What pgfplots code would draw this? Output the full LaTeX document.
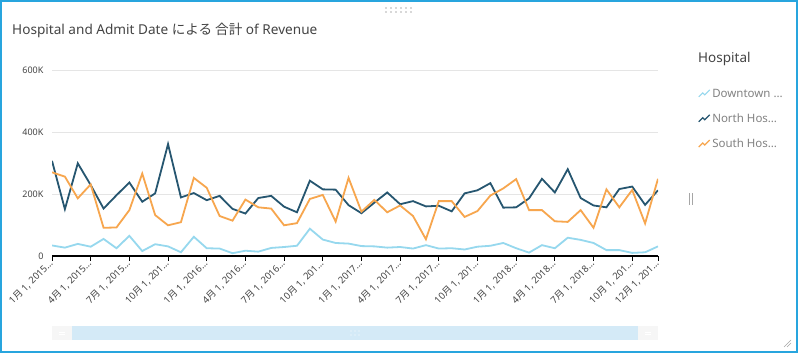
\documentclass[border=0pt]{standalone}
\usepackage{pgfplots}
\usepackage{pgfplotstable}
\pgfplotsset{compat=1.18}
\usepackage{fontspec}
\setmainfont{Noto Sans}
\newfontfamily\cjk{Noto Sans CJK JP}
\definecolor{frame}{RGB}{40,165,222}
\definecolor{dtc}{RGB}{150,216,238}
\definecolor{nhc}{RGB}{38,86,112}
\definecolor{shc}{RGB}{247,166,78}
\definecolor{txt}{RGB}{68,68,68}
\definecolor{ltxt}{RGB}{130,130,130}
\definecolor{scroll}{RGB}{212,234,247}
% values in thousands
\pgfplotstableread{
i dt nh sh
0 34 307 270
1 27 151 256
2 39 299 186
3 30 229 231
4 55 153 91
5 25 196 92
6 65 237 148
7 16 175 266
8 38 202 132
9 31 361 99
10 12 189 109
11 62 203 252
12 25 180 220
13 24 194 129
14 9 152 114
15 17 137 182
16 14 187 157
17 26 194 153
18 29 159 99
19 33 141 106
20 88 243 184
21 53 215 197
22 42 214 111
23 40 164 252
24 32 138 143
25 31 172 181
26 27 205 141
27 29 167 163
28 24 177 129
29 35 160 54
30 24 162 177
31 25 144 177
32 21 202 126
33 30 212 145
34 33 235 195
35 42 156 218
36 25 157 248
37 11 186 148
38 35 249 148
39 25 205 112
40 59 280 110
41 52 187 148
42 42 163 91
43 19 157 215
44 19 216 157
45 10 224 213
46 12 165 105
47 31 212 249
}\data
\begin{document}
\begin{tikzpicture}
\useasboundingbox (0,0) rectangle (798pt,353pt);
\fill[white] (0,0) rectangle (798pt,353pt);
\draw[frame, line width=2pt] (1pt,1pt) rectangle (797pt,352pt);
\node[anchor=base west, font=\fontsize{13.6}{15}\selectfont, text=txt, inner sep=0pt] at (12pt,318pt) {Hospital and Admit Date {\cjk による 合計} of Revenue};
% top drag handle
\foreach \xx in {386,391,...,411} {
  \fill[gray!60] (\xx pt,345pt) circle (0.8pt);
  \fill[gray!60] (\xx pt,341pt) circle (0.8pt);
}
% right handle
\draw[gray!70, line width=0.8pt] (689pt,148pt) -- (689pt,160pt);
\draw[gray!70, line width=0.8pt] (692pt,148pt) -- (692pt,160pt);
% resize corner
\draw[gray!70, line width=0.6pt] (784pt,6pt) -- (791pt,13pt);
\draw[gray!70, line width=0.6pt] (787pt,6pt) -- (791pt,10pt);
% scrollbar
\fill[scroll] (72pt,13pt) rectangle (638pt,27pt);
\fill[gray!7] (52pt,13pt) rectangle (72pt,27pt);
\fill[gray!7] (638pt,13pt) rectangle (658pt,27pt);
\draw[white, line width=0.6pt] (59pt,19pt) -- (65pt,19pt) (59pt,21pt) -- (65pt,21pt);
\draw[white, line width=0.6pt] (645pt,19pt) -- (651pt,19pt) (645pt,21pt) -- (651pt,21pt);
\foreach \xx in {351,355,359} {
  \fill[white] (\xx pt,18pt) circle (0.7pt);
  \fill[white] (\xx pt,22pt) circle (0.7pt);
}
% legend title
\node[anchor=base west, font=\fontsize{13.5}{15}\selectfont, text=txt, inner sep=0pt] at (698pt,290pt) {Hospital};
\begin{axis}[
  at={(52pt,97pt)}, anchor=south west, scale only axis,
  width=606pt, height=186pt,
  xmin=0, xmax=47, ymin=0, ymax=600,
  axis x line*=bottom, axis y line*=left,
  x axis line style={-, black, line width=1.2pt},
  y axis line style={draw=none},
  ytick={0,200,400,600},
  yticklabels={0,200K,400K,600K},
  ymajorgrids, major grid style={draw=gray!20, line width=0.8pt},
  ytick style={draw=none},
  xtick={0,3,...,45,47},
  tick align=outside,
  xtick style={black, line width=1pt},
  major tick length=5pt,
  xticklabels={
    {1{\cjk 月} 1, 2015…},{4{\cjk 月} 1, 2015…},{7{\cjk 月} 1, 2015…},{10{\cjk 月} 1, 201…},
    {1{\cjk 月} 1, 2016…},{4{\cjk 月} 1, 2016…},{7{\cjk 月} 1, 2016…},{10{\cjk 月} 1, 201…},
    {1{\cjk 月} 1, 2017…},{4{\cjk 月} 1, 2017…},{7{\cjk 月} 1, 2017…},{10{\cjk 月} 1, 201…},
    {1{\cjk 月} 1, 2018…},{4{\cjk 月} 1, 2018…},{7{\cjk 月} 1, 2018…},{10{\cjk 月} 1, 201…},
    {12{\cjk 月} 1, 201…}},
  xticklabel style={rotate=45, anchor=east, font=\fontsize{9.5}{11}\selectfont, text=txt, inner sep=1pt},
  yticklabel style={font=\fontsize{9}{11}\selectfont, text=txt},
  legend style={at={(1.066,0.91)}, anchor=north west, draw=none, fill=none,
    font=\fontsize{11.5}{13}\selectfont, text=ltxt, row sep=11pt, inner sep=0pt},
  legend cell align=left,
  legend image code/.code={\draw[#1, line width=1.1pt] (0pt,-3pt) -- (4pt,1pt) -- (6pt,-1pt) -- (11pt,4pt);},
]
\addplot[dtc, line width=1.8pt] table[x=i, y=dt] {\data};
\addlegendentry{Downtown …}
\addplot[nhc, line width=1.8pt] table[x=i, y=nh] {\data};
\addlegendentry{North Hos…}
\addplot[shc, line width=1.8pt] table[x=i, y=sh] {\data};
\addlegendentry{South Hos…}
\end{axis}
\end{tikzpicture}
\end{document}
